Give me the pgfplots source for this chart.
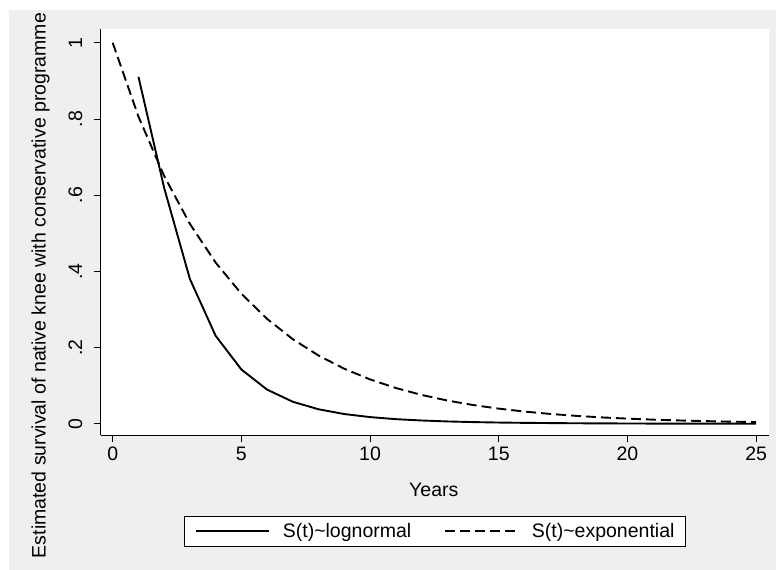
\documentclass[border=0pt]{standalone}
\usepackage{fontspec}
\setmainfont{Liberation Sans}
\usepackage{pgfplots}
\pgfplotsset{compat=1.18}
\definecolor{bggray}{RGB}{239,239,239}
\newcommand{\F}{\fontsize{19.5bp}{23bp}\selectfont}
\begin{document}
\begin{tikzpicture}[x=1bp,y=1bp]
\useasboundingbox (0,0) rectangle (776,570);
\fill[white] (0,0) rectangle (776,570);
\fill[bggray] (9.3,0) rectangle (776,560);
\coordinate (A) at (100.7,134.5);
\node[rotate=90, anchor=base, font=\F, inner sep=0pt] at (45.5,284.5)
  {Estimated survival of native knee with conservative programme};
\node[anchor=base, font=\F, inner sep=0pt] at (433.8,73) {Years};
\begin{axis}[
  at={(A)}, anchor=south west,
  scale only axis, width=668.3bp, height=406.2bp,
  xmin=-0.466, xmax=25.5, ymin=-0.0307, ymax=1.0355,
  axis x line*=bottom, axis y line*=left,
  axis line style={-, line width=0.9bp},
  axis background/.style={fill=white},
  tick align=outside, major tick length=7bp,
  tick style={black, line width=0.9bp},
  xtick={0,5,10,15,20,25}, xticklabels={0,5,10,15,20,25},
  ytick={0,0.2,0.4,0.6,0.8,1}, yticklabels={0,.2,.4,.6,.8,1},
  ticklabel style={font=\F},
  xticklabel style={anchor=base, inner sep=0pt, yshift=-18.5bp},
  yticklabel style={rotate=90, anchor=base, inner sep=0pt, yshift=11.7bp},
  legend style={at={(rel axis cs:0.5,-0.2356)}, anchor=center,
    draw=black, line width=0.9bp, fill=white, font=\F,
    inner xsep=10.7bp, inner ysep=7bp,
    column sep=12.7bp,
    nodes={inner sep=0pt},
    /tikz/every even column/.append style={column sep=33bp}},
  legend columns=2,
  legend image code/.code={\draw[#1] (0bp,0bp) -- (73bp,0bp);},
]
\addplot[black, line width=1.9bp] coordinates {
(1,0.911) (2,0.619) (3,0.380) (4,0.231) (5,0.1425) (6,0.0897) (7,0.0578)
(8,0.0381) (9,0.0256) (10,0.0176) (11,0.0122) (12,0.0087) (13,0.0062)
(14,0.0045) (15,0.0033) (16,0.0025) (17,0.0019) (18,0.0014) (19,0.0011)
(20,0.0008) (21,0.0006) (22,0.0005) (23,0.0004) (24,0.0003) (25,0.0002)};
\addlegendentry{S(t)\char`\~lognormal}
\addplot[black, line width=1.9bp, dash pattern=on 10bp off 5bp] coordinates {
(0,1) (1,0.8065) (2,0.6505) (3,0.5247) (4,0.4232) (5,0.3413) (6,0.2753)
(7,0.2220) (8,0.1791) (9,0.1444) (10,0.1165) (11,0.0940) (12,0.0758)
(13,0.0611) (14,0.0493) (15,0.0398) (16,0.0321) (17,0.0259) (18,0.0209)
(19,0.0168) (20,0.0136) (21,0.0109) (22,0.0088) (23,0.0071) (24,0.0057)
(25,0.0046)};
\addlegendentry{S(t)\char`\~exponential}
\end{axis}
\end{tikzpicture}
\end{document}
